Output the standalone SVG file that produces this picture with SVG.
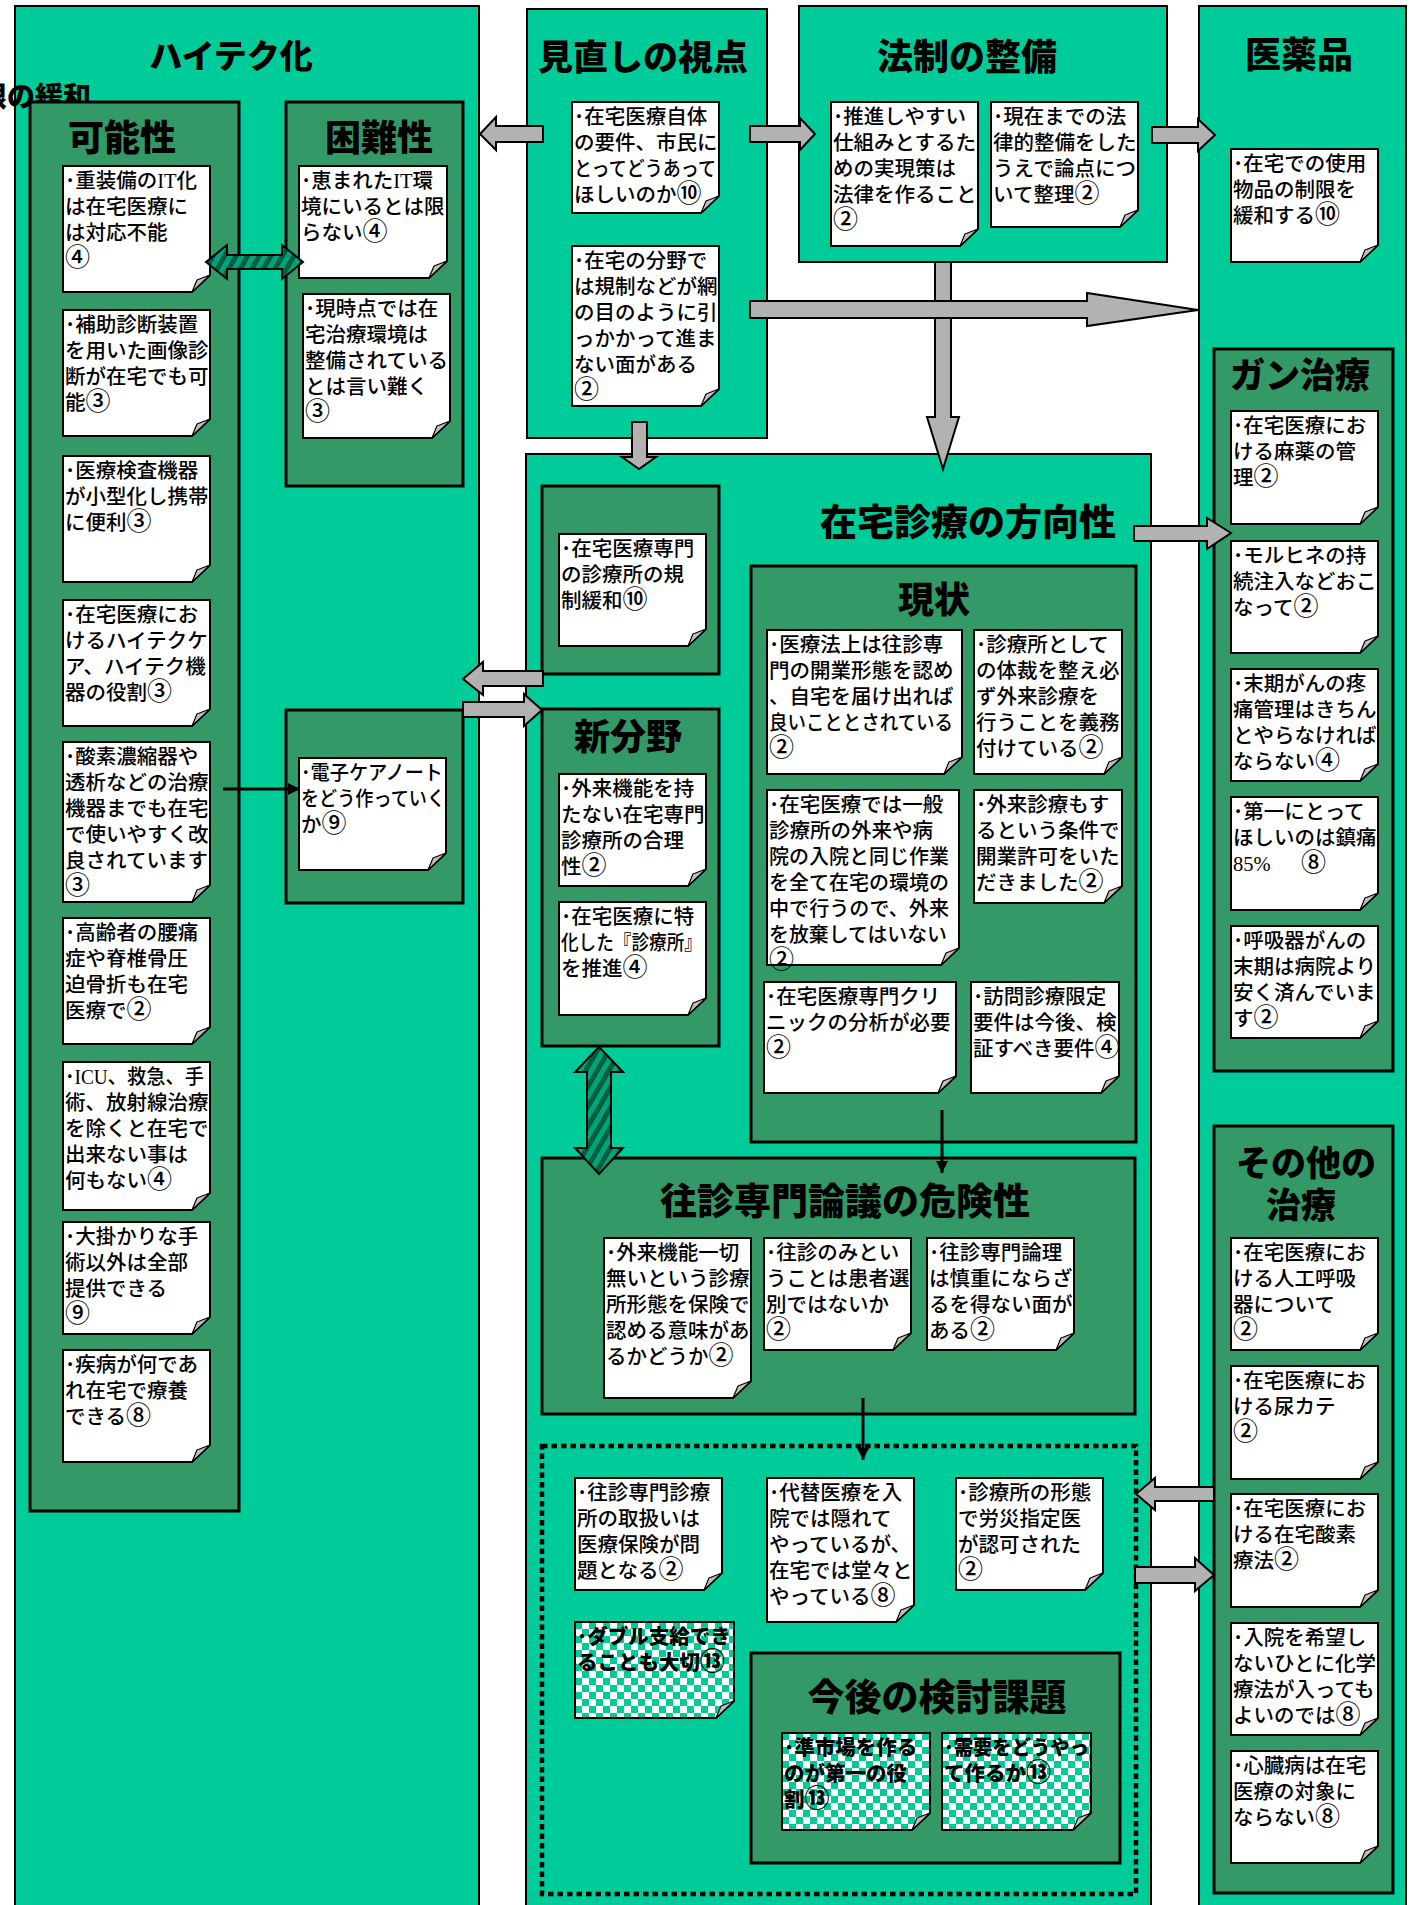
<svg xmlns="http://www.w3.org/2000/svg" width="1409" height="1905" viewBox="0 0 1409 1905">
<defs>
<style>
.outer{fill:#00CC99;stroke:#000;stroke-width:2}
.inner{fill:#339966;stroke:#000;stroke-width:3}
.note{fill:#fff;stroke:#000;stroke-width:2}
.chk{fill:url(#checker);stroke:#000;stroke-width:2}
.fold{fill:#c0c0c0;stroke:#000;stroke-width:1.2;stroke-linejoin:round}
.t{font-family:"Noto Sans CJK JP","Noto Sans",sans-serif;font-size:20.5px;font-weight:500;fill:#000}
.tb{font-family:"Noto Sans CJK JP","Noto Sans",sans-serif;font-size:20.5px;font-weight:900;fill:#000}
.h{font-family:"Noto Sans CJK JP","Noto Sans",sans-serif;font-weight:900;font-size:36px;fill:#000;text-anchor:middle}
.lat{font-family:"Liberation Serif",serif}
.cn{font-size:25px}
.garrow{fill:#b2b2b2;stroke:#000;stroke-width:2;stroke-linejoin:miter}
.hatch{fill:url(#stripes);stroke:#000;stroke-width:2}
.dotted{fill:none;stroke:#000;stroke-width:4.5;stroke-dasharray:5.5 4}
.bl{stroke:#000;stroke-width:3;fill:none}
</style>
<pattern id="checker" patternUnits="userSpaceOnUse" width="14" height="14">
<rect width="14" height="14" fill="#fff"/>
<rect width="7" height="7" fill="#00CC99"/>
<rect x="7" y="7" width="7" height="7" fill="#00CC99"/>
</pattern>
<pattern id="stripes" patternUnits="userSpaceOnUse" width="10" height="10" patternTransform="rotate(30)">
<rect width="10" height="10" fill="#00a37c"/>
<rect width="5" height="10" fill="#005f3f"/>
</pattern>
<marker id="ah" viewBox="0 0 10 10" refX="10" refY="5" markerUnits="userSpaceOnUse" markerWidth="13" markerHeight="12" orient="auto">
<path d="M0 0L10 5L0 10Z" fill="#000"/>
</marker>
</defs>

<rect width="1409" height="1905" fill="#fff"/>

<!-- Outer boxes -->
<g id="box-hightech">
<rect class="outer" x="15" y="6" width="464" height="1920"/>
<text class="h" x="231" y="68" style="font-size:33px">ハイテク化</text>
</g>
<g id="label-kanwa">
<text x="91" y="107" text-anchor="end" style="font-family:'Noto Sans CJK JP','Noto Sans',sans-serif;font-weight:900;font-size:28px">限の緩和</text>
</g>
<g id="box-minaoshi">
<rect class="outer" x="527" y="9" width="240" height="429"/>
<text class="h" x="643" y="70" style="font-size:35px">見直しの視点</text>
</g>
<g id="box-housei">
<rect class="outer" x="799" y="6" width="368" height="256"/>
<text class="h" x="967" y="70">法制の整備</text>
</g>
<g id="box-iyakuhin">
<rect class="outer" x="1199" y="6" width="207" height="1920"/>
<text class="h" x="1299" y="68">医薬品</text>
</g>
<g id="box-houkousei">
<rect class="outer" x="526" y="454" width="625" height="1470"/>
<text class="h" x="968" y="536" style="font-size:37px">在宅診療の方向性</text>
</g>

<!-- Inner boxes -->
<g id="box-kanousei">
<rect class="inner" x="30" y="102" width="209" height="1409"/>
<text class="h" x="122" y="151">可能性</text>
</g>
<g id="box-konnansei">
<rect class="inner" x="286" y="102" width="177" height="384"/>
<text class="h" x="379" y="151">困難性</text>
</g>
<g id="box-denshi">
<rect class="inner" x="286" y="710" width="177" height="193"/>
</g>
<g id="box-kisei">
<rect class="inner" x="542" y="486" width="177" height="188"/>
</g>
<g id="box-shinbunya">
<rect class="inner" x="542" y="709" width="177" height="337"/>
<text class="h" x="628" y="750">新分野</text>
</g>
<g id="box-genjou">
<rect class="inner" x="751" y="566" width="385" height="576"/>
<text class="h" x="934" y="613">現状</text>
</g>
<g id="box-oushin">
<rect class="inner" x="542" y="1158" width="593" height="256"/>
<text class="h" x="845" y="1215" style="font-size:37px">往診専門論議の危険性</text>
</g>
<g id="box-dotted">
<rect class="dotted" x="542" y="1446" width="594" height="448"/>
</g>
<g id="box-kongo">
<rect class="inner" x="751" y="1653" width="369" height="210"/>
<text class="h" x="937" y="1711" style="font-size:37px">今後の検討課題</text>
</g>
<g id="box-gan">
<rect class="inner" x="1214" y="349" width="179" height="722"/>
<text class="h" x="1300" y="388" style="font-size:35px">ガン治療</text>
</g>
<g id="box-sonota">
<rect class="inner" x="1214" y="1126" width="179" height="767"/>
<text class="h" x="1306" y="1176" style="font-size:35px">その他の</text>
<text class="h" x="1301" y="1218" style="font-size:35px">治療</text>
</g>

<!-- Notes: 可能性 -->
<g id="n-k1" transform="translate(63,166)"><path class="note" d="M0 0H147V109L129 126H0Z"/><path class="fold" d="M129 126L134 114L147 109Z"/>
<text class="t"><tspan x="2" y="22">･重装備の<tspan class="lat">IT</tspan>化</tspan><tspan x="2" y="48">は在宅医療に</tspan><tspan x="2" y="74">は対応不能</tspan><tspan x="2" y="100" class="cn">④</tspan></text></g>
<g id="n-k2" transform="translate(63,310)"><path class="note" d="M0 0H147V109L129 126H0Z"/><path class="fold" d="M129 126L134 114L147 109Z"/>
<text class="t"><tspan x="2" y="22">･補助診断装置</tspan><tspan x="2" y="48">を用いた画像診</tspan><tspan x="2" y="74">断が在宅でも可</tspan><tspan x="2" y="100">能<tspan class="cn">③</tspan></tspan></text></g>
<g id="n-k3" transform="translate(63,456)"><path class="note" d="M0 0H147V109L129 126H0Z"/><path class="fold" d="M129 126L134 114L147 109Z"/>
<text class="t"><tspan x="2" y="22">･医療検査機器</tspan><tspan x="2" y="48">が小型化し携帯</tspan><tspan x="2" y="74">に便利<tspan class="cn">③</tspan></tspan></text></g>
<g id="n-k4" transform="translate(63,600)"><path class="note" d="M0 0H147V109L129 126H0Z"/><path class="fold" d="M129 126L134 114L147 109Z"/>
<text class="t"><tspan x="2" y="22">･在宅医療にお</tspan><tspan x="2" y="48">けるハイテクケ</tspan><tspan x="2" y="74">ア、ハイテク機</tspan><tspan x="2" y="100">器の役割<tspan class="cn">③</tspan></tspan></text></g>
<g id="n-k5" transform="translate(63,742)"><path class="note" d="M0 0H147V143L129 160H0Z"/><path class="fold" d="M129 160L134 148L147 143Z"/>
<text class="t"><tspan x="2" y="22">･酸素濃縮器や</tspan><tspan x="2" y="48">透析などの治療</tspan><tspan x="2" y="74">機器までも在宅</tspan><tspan x="2" y="100">で使いやすく改</tspan><tspan x="2" y="126">良されています</tspan><tspan x="2" y="152" class="cn">③</tspan></text></g>
<g id="n-k6" transform="translate(63,918)"><path class="note" d="M0 0H147V109L129 126H0Z"/><path class="fold" d="M129 126L134 114L147 109Z"/>
<text class="t"><tspan x="2" y="22">･高齢者の腰痛</tspan><tspan x="2" y="48">症や脊椎骨圧</tspan><tspan x="2" y="74">迫骨折も在宅</tspan><tspan x="2" y="100">医療で<tspan class="cn">②</tspan></tspan></text></g>
<g id="n-k7" transform="translate(63,1062)"><path class="note" d="M0 0H147V131L129 148H0Z"/><path class="fold" d="M129 148L134 136L147 131Z"/>
<text class="t"><tspan x="2" y="22" textLength="139" lengthAdjust="spacingAndGlyphs">･<tspan class="lat">ICU</tspan>、救急、手</tspan><tspan x="2" y="48">術、放射線治療</tspan><tspan x="2" y="74">を除くと在宅で</tspan><tspan x="2" y="100">出来ない事は</tspan><tspan x="2" y="126">何もない<tspan class="cn">④</tspan></tspan></text></g>
<g id="n-k8" transform="translate(63,1222)"><path class="note" d="M0 0H147V95L129 112H0Z"/><path class="fold" d="M129 112L134 100L147 95Z"/>
<text class="t"><tspan x="2" y="22">･大掛かりな手</tspan><tspan x="2" y="48">術以外は全部</tspan><tspan x="2" y="74">提供できる</tspan><tspan x="2" y="100" class="cn">⑨</tspan></text></g>
<g id="n-k9" transform="translate(63,1350)"><path class="note" d="M0 0H147V95L129 112H0Z"/><path class="fold" d="M129 112L134 100L147 95Z"/>
<text class="t"><tspan x="2" y="22">･疾病が何であ</tspan><tspan x="2" y="48">れ在宅で療養</tspan><tspan x="2" y="74">できる<tspan class="cn">⑧</tspan></tspan></text></g>

<!-- Notes: 困難性 -->
<g id="n-ka" transform="translate(299,166)"><path class="note" d="M0 0H148V95L130 112H0Z"/><path class="fold" d="M130 112L135 100L148 95Z"/>
<text class="t"><tspan x="2" y="22">･恵まれた<tspan class="lat">IT</tspan>環</tspan><tspan x="2" y="48">境にいるとは限</tspan><tspan x="2" y="74">らない<tspan class="cn">④</tspan></tspan></text></g>
<g id="n-kb" transform="translate(303,294)"><path class="note" d="M0 0H147V127L129 144H0Z"/><path class="fold" d="M129 144L134 132L147 127Z"/>
<text class="t"><tspan x="2" y="22">･現時点では在</tspan><tspan x="2" y="48">宅治療環境は</tspan><tspan x="2" y="74">整備されている</tspan><tspan x="2" y="100">とは言い難く</tspan><tspan x="2" y="126" class="cn">③</tspan></text></g>
<g id="n-denshi" transform="translate(299,758)"><path class="note" d="M0 0H147V95L129 112H0Z"/><path class="fold" d="M129 112L134 100L147 95Z"/>
<text class="t"><tspan x="2" y="22" textLength="142" lengthAdjust="spacingAndGlyphs">･電子ケアノート</tspan><tspan x="2" y="48" textLength="144" lengthAdjust="spacingAndGlyphs">をどう作っていく</tspan><tspan x="2" y="74">か<tspan class="cn">⑨</tspan></tspan></text></g>

<!-- Notes: 見直し -->
<g id="n-m1" transform="translate(572,102)"><path class="note" d="M0 0H147V94L129 111H0Z"/><path class="fold" d="M129 111L134 99L147 94Z"/>
<text class="t"><tspan x="2" y="22">･在宅医療自体</tspan><tspan x="2" y="48">の要件、市民に</tspan><tspan x="2" y="74" textLength="142" lengthAdjust="spacingAndGlyphs">とってどうあって</tspan><tspan x="2" y="100">ほしいのか<tspan class="cn">⑩</tspan></tspan></text></g>
<g id="n-m2" transform="translate(572,246)"><path class="note" d="M0 0H147V143L129 160H0Z"/><path class="fold" d="M129 160L134 148L147 143Z"/>
<text class="t"><tspan x="2" y="22">･在宅の分野で</tspan><tspan x="2" y="48">は規制などが網</tspan><tspan x="2" y="74">の目のように引</tspan><tspan x="2" y="100">っかかって進ま</tspan><tspan x="2" y="126">ない面がある</tspan><tspan x="2" y="152" class="cn">②</tspan></text></g>

<!-- Notes: 法制 -->
<g id="n-h1" transform="translate(831,102)"><path class="note" d="M0 0H147V127L129 144H0Z"/><path class="fold" d="M129 144L134 132L147 127Z"/>
<text class="t"><tspan x="2" y="22">･推進しやすい</tspan><tspan x="2" y="48">仕組みとするた</tspan><tspan x="2" y="74">めの実現策は</tspan><tspan x="2" y="100">法律を作ること</tspan><tspan x="2" y="126" class="cn">②</tspan></text></g>
<g id="n-h2" transform="translate(991,102)"><path class="note" d="M0 0H147V108L129 125H0Z"/><path class="fold" d="M129 125L134 113L147 108Z"/>
<text class="t"><tspan x="2" y="22">･現在までの法</tspan><tspan x="2" y="48">律的整備をした</tspan><tspan x="2" y="74">うえで論点につ</tspan><tspan x="2" y="100">いて整理<tspan class="cn">②</tspan></tspan></text></g>

<!-- Note: 医薬品 -->
<g id="n-iy" transform="translate(1231,149)"><path class="note" d="M0 0H147V96L129 113H0Z"/><path class="fold" d="M129 113L134 101L147 96Z"/>
<text class="t"><tspan x="2" y="22">･在宅での使用</tspan><tspan x="2" y="48">物品の制限を</tspan><tspan x="2" y="74">緩和する<tspan class="cn">⑩</tspan></tspan></text></g>

<!-- Notes: 規制緩和 / 新分野 -->
<g id="n-kisei" transform="translate(559,534)"><path class="note" d="M0 0H147V95L129 112H0Z"/><path class="fold" d="M129 112L134 100L147 95Z"/>
<text class="t"><tspan x="2" y="22">･在宅医療専門</tspan><tspan x="2" y="48">の診療所の規</tspan><tspan x="2" y="74">制緩和<tspan class="cn">⑩</tspan></tspan></text></g>
<g id="n-s1" transform="translate(559,774)"><path class="note" d="M0 0H147V95L129 112H0Z"/><path class="fold" d="M129 112L134 100L147 95Z"/>
<text class="t"><tspan x="2" y="22">･外来機能を持</tspan><tspan x="2" y="48">たない在宅専門</tspan><tspan x="2" y="74">診療所の合理</tspan><tspan x="2" y="100">性<tspan class="cn">②</tspan></tspan></text></g>
<g id="n-s2" transform="translate(559,902)"><path class="note" d="M0 0H147V96L129 113H0Z"/><path class="fold" d="M129 113L134 101L147 96Z"/>
<text class="t"><tspan x="2" y="22">･在宅医療に特</tspan><tspan x="2" y="48" textLength="141" lengthAdjust="spacingAndGlyphs">化した『診療所』</tspan><tspan x="2" y="74">を推進<tspan class="cn">④</tspan></tspan></text></g>

<!-- Notes: 現状 -->
<g id="n-g1" transform="translate(767,630)"><path class="note" d="M0 0H195V127L177 144H0Z"/><path class="fold" d="M177 144L182 132L195 127Z"/>
<text class="t"><tspan x="2" y="22">･医療法上は往診専</tspan><tspan x="2" y="48">門の開業形態を認め</tspan><tspan x="2" y="74">、自宅を届け出れば</tspan><tspan x="2" y="100" textLength="184" lengthAdjust="spacingAndGlyphs">良いこととされている</tspan><tspan x="2" y="126" class="cn">②</tspan></text></g>
<g id="n-g2" transform="translate(974,630)"><path class="note" d="M0 0H148V127L130 144H0Z"/><path class="fold" d="M130 144L135 132L148 127Z"/>
<text class="t"><tspan x="2" y="22">･診療所として</tspan><tspan x="2" y="48">の体裁を整え必</tspan><tspan x="2" y="74">ず外来診療を</tspan><tspan x="2" y="100">行うことを義務</tspan><tspan x="2" y="126">付けている<tspan class="cn">②</tspan></tspan></text></g>
<g id="n-g3" transform="translate(767,790)"><path class="note" d="M0 0H192V158L174 175H0Z"/><path class="fold" d="M174 175L179 163L192 158Z"/>
<text class="t"><tspan x="2" y="22">･在宅医療では一般</tspan><tspan x="2" y="48">診療所の外来や病</tspan><tspan x="2" y="74" textLength="180" lengthAdjust="spacingAndGlyphs">院の入院と同じ作業</tspan><tspan x="2" y="100" textLength="180" lengthAdjust="spacingAndGlyphs">を全て在宅の環境の</tspan><tspan x="2" y="126" textLength="180" lengthAdjust="spacingAndGlyphs">中で行うので、外来</tspan><tspan x="2" y="152" textLength="178" lengthAdjust="spacingAndGlyphs">を放棄してはいない</tspan><tspan x="2" y="178" class="cn">②</tspan></text></g>
<g id="n-g4" transform="translate(974,790)"><path class="note" d="M0 0H148V96L130 113H0Z"/><path class="fold" d="M130 113L135 101L148 96Z"/>
<text class="t"><tspan x="2" y="22">･外来診療もす</tspan><tspan x="2" y="48">るという条件で</tspan><tspan x="2" y="74">開業許可をいた</tspan><tspan x="2" y="100">だきました<tspan class="cn">②</tspan></tspan></text></g>
<g id="n-g5" transform="translate(764,982)"><path class="note" d="M0 0H192V94L174 111H0Z"/><path class="fold" d="M174 111L179 99L192 94Z"/>
<text class="t"><tspan x="2" y="22">･在宅医療専門クリ</tspan><tspan x="2" y="48">ニックの分析が必要</tspan><tspan x="2" y="74" class="cn">②</tspan></text></g>
<g id="n-g6" transform="translate(971,982)"><path class="note" d="M0 0H148V94L130 111H0Z"/><path class="fold" d="M130 111L135 99L148 94Z"/>
<text class="t"><tspan x="2" y="22">･訪問診療限定</tspan><tspan x="2" y="48">要件は今後、検</tspan><tspan x="2" y="74">証すべき要件<tspan class="cn">④</tspan></tspan></text></g>

<!-- Notes: 往診専門論議の危険性 -->
<g id="n-o1" transform="translate(604,1238)"><path class="note" d="M0 0H147V143L129 160H0Z"/><path class="fold" d="M129 160L134 148L147 143Z"/>
<text class="t"><tspan x="2" y="22">･外来機能一切</tspan><tspan x="2" y="48">無いという診療</tspan><tspan x="2" y="74">所形態を保険で</tspan><tspan x="2" y="100">認める意味があ</tspan><tspan x="2" y="126">るかどうか<tspan class="cn">②</tspan></tspan></text></g>
<g id="n-o2" transform="translate(764,1238)"><path class="note" d="M0 0H147V95L129 112H0Z"/><path class="fold" d="M129 112L134 100L147 95Z"/>
<text class="t"><tspan x="2" y="22">･往診のみとい</tspan><tspan x="2" y="48">うことは患者選</tspan><tspan x="2" y="74">別ではないか</tspan><tspan x="2" y="100" class="cn">②</tspan></text></g>
<g id="n-o3" transform="translate(927,1238)"><path class="note" d="M0 0H147V95L129 112H0Z"/><path class="fold" d="M129 112L134 100L147 95Z"/>
<text class="t"><tspan x="2" y="22">･往診専門論理</tspan><tspan x="2" y="48">は慎重にならざ</tspan><tspan x="2" y="74">るを得ない面が</tspan><tspan x="2" y="100">ある<tspan class="cn">②</tspan></tspan></text></g>

<!-- Notes: dotted area -->
<g id="n-d1" transform="translate(575,1478)"><path class="note" d="M0 0H147V95L129 112H0Z"/><path class="fold" d="M129 112L134 100L147 95Z"/>
<text class="t"><tspan x="2" y="22">･往診専門診療</tspan><tspan x="2" y="48">所の取扱いは</tspan><tspan x="2" y="74">医療保険が問</tspan><tspan x="2" y="100">題となる<tspan class="cn">②</tspan></tspan></text></g>
<g id="n-d2" transform="translate(767,1478)"><path class="note" d="M0 0H147V127L129 144H0Z"/><path class="fold" d="M129 144L134 132L147 127Z"/>
<text class="t"><tspan x="2" y="22">･代替医療を入</tspan><tspan x="2" y="48">院では隠れて</tspan><tspan x="2" y="74">やっているが、</tspan><tspan x="2" y="100">在宅では堂々と</tspan><tspan x="2" y="126">やっている<tspan class="cn">⑧</tspan></tspan></text></g>
<g id="n-d3" transform="translate(956,1478)"><path class="note" d="M0 0H147V95L129 112H0Z"/><path class="fold" d="M129 112L134 100L147 95Z"/>
<text class="t"><tspan x="2" y="22">･診療所の形態</tspan><tspan x="2" y="48">で労災指定医</tspan><tspan x="2" y="74">が認可された</tspan><tspan x="2" y="100" class="cn">②</tspan></text></g>
<g id="n-c1" transform="translate(575,1622)"><path class="chk" d="M0 0H159V79L141 96H0Z"/><path class="fold" d="M141 96L146 84L159 79Z"/>
<text class="tb"><tspan x="2" y="22">･ダブル支給でき</tspan><tspan x="2" y="48">ることも大切<tspan class="cn">⑬</tspan></tspan></text></g>
<g id="n-c2" transform="translate(782,1733)"><path class="chk" d="M0 0H148V80L130 97H0Z"/><path class="fold" d="M130 97L135 85L148 80Z"/>
<text class="tb"><tspan x="2" y="22">･準市場を作る</tspan><tspan x="2" y="48">のが第一の役</tspan><tspan x="2" y="74">割<tspan class="cn">⑬</tspan></tspan></text></g>
<g id="n-c3" transform="translate(942,1733)"><path class="chk" d="M0 0H149V80L131 97H0Z"/><path class="fold" d="M131 97L136 85L149 80Z"/>
<text class="tb"><tspan x="2" y="22" textLength="145" lengthAdjust="spacingAndGlyphs">･需要をどうやっ</tspan><tspan x="2" y="48">て作るか<tspan class="cn">⑬</tspan></tspan></text></g>

<!-- Notes: ガン治療 -->
<g id="n-gan1" transform="translate(1231,411)"><path class="note" d="M0 0H147V96L129 113H0Z"/><path class="fold" d="M129 113L134 101L147 96Z"/>
<text class="t"><tspan x="2" y="22">･在宅医療にお</tspan><tspan x="2" y="48">ける麻薬の管</tspan><tspan x="2" y="74">理<tspan class="cn">②</tspan></tspan></text></g>
<g id="n-gan2" transform="translate(1231,541)"><path class="note" d="M0 0H147V95L129 112H0Z"/><path class="fold" d="M129 112L134 100L147 95Z"/>
<text class="t"><tspan x="2" y="22">･モルヒネの持</tspan><tspan x="2" y="48">続注入などおこ</tspan><tspan x="2" y="74">なって<tspan class="cn">②</tspan></tspan></text></g>
<g id="n-gan3" transform="translate(1231,669)"><path class="note" d="M0 0H147V95L129 112H0Z"/><path class="fold" d="M129 112L134 100L147 95Z"/>
<text class="t"><tspan x="2" y="22">･末期がんの疼</tspan><tspan x="2" y="48">痛管理はきちん</tspan><tspan x="2" y="74">とやらなければ</tspan><tspan x="2" y="100">ならない<tspan class="cn">④</tspan></tspan></text></g>
<g id="n-gan4" transform="translate(1231,797)"><path class="note" d="M0 0H147V96L129 113H0Z"/><path class="fold" d="M129 113L134 101L147 96Z"/>
<text class="t"><tspan x="2" y="22">･第一にとって</tspan><tspan x="2" y="48">ほしいのは鎮痛</tspan><tspan x="2" y="74" class="lat">85%</tspan><tspan x="70" y="74" class="cn">⑧</tspan></text></g>
<g id="n-gan5" transform="translate(1231,926)"><path class="note" d="M0 0H147V95L129 112H0Z"/><path class="fold" d="M129 112L134 100L147 95Z"/>
<text class="t"><tspan x="2" y="22">･呼吸器がんの</tspan><tspan x="2" y="48">末期は病院より</tspan><tspan x="2" y="74">安く済んでいま</tspan><tspan x="2" y="100">す<tspan class="cn">②</tspan></tspan></text></g>

<!-- Notes: その他の治療 -->
<g id="n-so1" transform="translate(1231,1238)"><path class="note" d="M0 0H147V95L129 112H0Z"/><path class="fold" d="M129 112L134 100L147 95Z"/>
<text class="t"><tspan x="2" y="22">･在宅医療にお</tspan><tspan x="2" y="48">ける人工呼吸</tspan><tspan x="2" y="74">器について</tspan><tspan x="2" y="100" class="cn">②</tspan></text></g>
<g id="n-so2" transform="translate(1231,1366)"><path class="note" d="M0 0H147V96L129 113H0Z"/><path class="fold" d="M129 113L134 101L147 96Z"/>
<text class="t"><tspan x="2" y="22">･在宅医療にお</tspan><tspan x="2" y="48">ける尿カテ</tspan><tspan x="2" y="74" class="cn">②</tspan></text></g>
<g id="n-so3" transform="translate(1231,1494)"><path class="note" d="M0 0H147V96L129 113H0Z"/><path class="fold" d="M129 113L134 101L147 96Z"/>
<text class="t"><tspan x="2" y="22">･在宅医療にお</tspan><tspan x="2" y="48">ける在宅酸素</tspan><tspan x="2" y="74">療法<tspan class="cn">②</tspan></tspan></text></g>
<g id="n-so4" transform="translate(1231,1623)"><path class="note" d="M0 0H147V95L129 112H0Z"/><path class="fold" d="M129 112L134 100L147 95Z"/>
<text class="t"><tspan x="2" y="22">･入院を希望し</tspan><tspan x="2" y="48">ないひとに化学</tspan><tspan x="2" y="74">療法が入っても</tspan><tspan x="2" y="100">よいのでは<tspan class="cn">⑧</tspan></tspan></text></g>
<g id="n-so5" transform="translate(1231,1751)"><path class="note" d="M0 0H147V95L129 112H0Z"/><path class="fold" d="M129 112L134 100L147 95Z"/>
<text class="t"><tspan x="2" y="22">･心臓病は在宅</tspan><tspan x="2" y="48">医療の対象に</tspan><tspan x="2" y="74">ならない<tspan class="cn">⑧</tspan></tspan></text></g>

<!-- Connectors -->
<g id="connectors">
<polygon class="garrow" points="935,262 935,417 927,417 943,469 959,417 951,417 951,262"/>
<polygon class="garrow" points="750,301 1087,301 1087,293 1198,310 1087,326 1087,318 750,318"/>
<polygon class="garrow" points="543,126 496,126 496,117 480,134 496,150 496,142 543,142"/>
<polygon class="garrow" points="750,126 800,126 800,118 815,134 800,150 800,142 750,142"/>
<polygon class="garrow" points="1152,127 1198,127 1198,119 1215,135 1198,151 1198,143 1152,143"/>
<polygon class="garrow" points="632,422 647,422 647,457 656,457 639,469 622,457 632,457"/>
<polygon class="garrow" points="543,671 483,671 483,662 463,679 483,695 483,686 543,686"/>
<polygon class="garrow" points="463,702 524,702 524,694 542,710 524,726 524,717 463,717"/>
<polygon class="garrow" points="1134,526 1207,526 1207,518 1231,533 1207,549 1207,541 1134,541"/>
<polygon class="garrow" points="1214,1487 1155,1487 1155,1478 1136,1494 1155,1510 1155,1501 1214,1501"/>
<polygon class="garrow" points="1135,1567 1195,1567 1195,1558 1214,1575 1195,1591 1195,1583 1135,1583"/>
<polygon class="hatch" points="206,262 227,245 227,255 282,255 282,245 303,262 282,279 282,269 227,269 227,279"/>
<polygon class="hatch" points="599,1047 623,1072 611,1072 611,1148 623,1148 599,1174 575,1148 587,1148 587,1072 575,1072"/>
<line class="bl" x1="223" y1="789" x2="300" y2="789" marker-end="url(#ah)"/>
<line class="bl" x1="942" y1="1110" x2="942" y2="1173" marker-end="url(#ah)"/>
<line class="bl" x1="863" y1="1398" x2="863" y2="1460" marker-end="url(#ah)"/>
</g>
</svg>
